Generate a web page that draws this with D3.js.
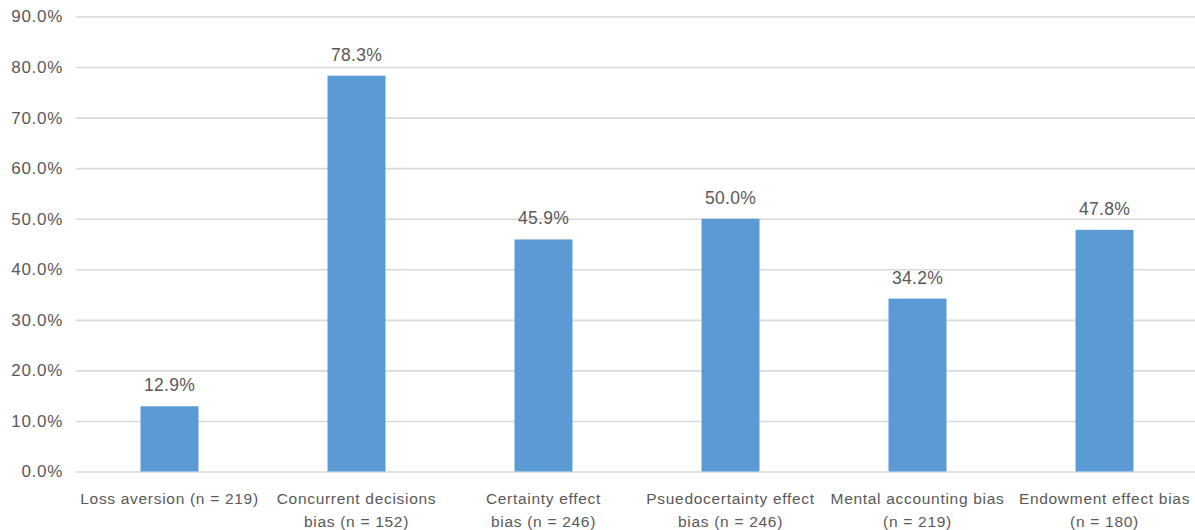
<!DOCTYPE html>
<html>
<head>
<meta charset="utf-8">
<script src="https://cdn.jsdelivr.net/npm/d3@7"></script>
<style>
  html, body { margin: 0; padding: 0; background: #fff; }
  text { font-family: "Liberation Sans", Arial, sans-serif; fill: #595959; }
</style>
</head>
<body>
<div id="chart"></div>
<script>
const width = 1195;
const height = 530;

// categories, wrapped the way the original shows them
const categories = [
  "Loss aversion (n = 219)",
  "Concurrent decisions bias (n = 152)",
  "Certainty effect bias (n = 246)",
  "Psuedocertainty effect bias (n = 246)",
  "Mental accounting bias (n = 219)",
  "Endowment effect bias (n = 180)"
];
const labelLines = [
  ["Loss aversion (n = 219)"],
  ["Concurrent decisions", "bias (n = 152)"],
  ["Certainty effect", "bias (n = 246)"],
  ["Psuedocertainty effect", "bias (n = 246)"],
  ["Mental accounting bias", "(n = 219)"],
  ["Endowment effect bias", "(n = 180)"]
];
const values = [0.129, 0.783, 0.459, 0.500, 0.342, 0.478];
const yTicks = [0, 0.1, 0.2, 0.3, 0.4, 0.5, 0.6, 0.7, 0.8, 0.9];

const svg = d3.select("#chart")
  .append("svg")
  .attr("width", width)
  .attr("height", height);

const x = d3.scaleBand()
  .domain(categories)
  .range([76, 1198])
  .paddingInner(0.69)
  .paddingOuter(0.345);

const y = d3.scaleLinear()
  .domain([0, 0.9])
  .range([471.5, 16.5]);

const fmt = d3.format(".1%");

// gridlines + y labels
const yAxis = d3.axisLeft(y)
  .tickValues(yTicks)
  .tickFormat(fmt)
  .tickSize(-(1198 - 76))
  .tickPadding(13);

const gy = svg.append("g")
  .attr("transform", "translate(76,0)")
  .call(yAxis);
gy.select(".domain").remove();
gy.selectAll(".tick line")
  .attr("stroke", "#d9d9d9")
  .attr("stroke-width", 1.6);
gy.selectAll(".tick text")
  .attr("font-size", 17)
  .attr("letter-spacing", "0.7px")
  .attr("fill", "#595959");

// bars
svg.append("g")
  .selectAll("rect")
  .data(values)
  .join("rect")
  .attr("x", (d, i) => x(categories[i]))
  .attr("width", x.bandwidth())
  .attr("y", d => y(d))
  .attr("height", d => y(0) - y(d))
  .attr("fill", "#5b9bd5");

// value labels
svg.append("g")
  .selectAll("text")
  .data(values)
  .join("text")
  .attr("x", (d, i) => x(categories[i]) + x.bandwidth() / 2)
  .attr("y", d => y(d) - 15)
  .attr("text-anchor", "middle")
  .attr("font-size", 17.5)
  .attr("letter-spacing", "0.3px")
  .text(d => fmt(d));

// category labels
const cat = svg.append("g")
  .selectAll("text")
  .data(labelLines)
  .join("text")
  .attr("x", (d, i) => x(categories[i]) + x.bandwidth() / 2)
  .attr("y", 504)
  .attr("text-anchor", "middle")
  .attr("font-size", 15.5)
  .attr("letter-spacing", "0.7px");

cat.selectAll("tspan")
  .data((d, i) => d.map(line => ({ line, i })))
  .join("tspan")
  .attr("x", d => x(categories[d.i]) + x.bandwidth() / 2)
  .attr("dy", (d, j) => j === 0 ? 0 : 22.5)
  .text(d => d.line);
</script>
</body>
</html>
